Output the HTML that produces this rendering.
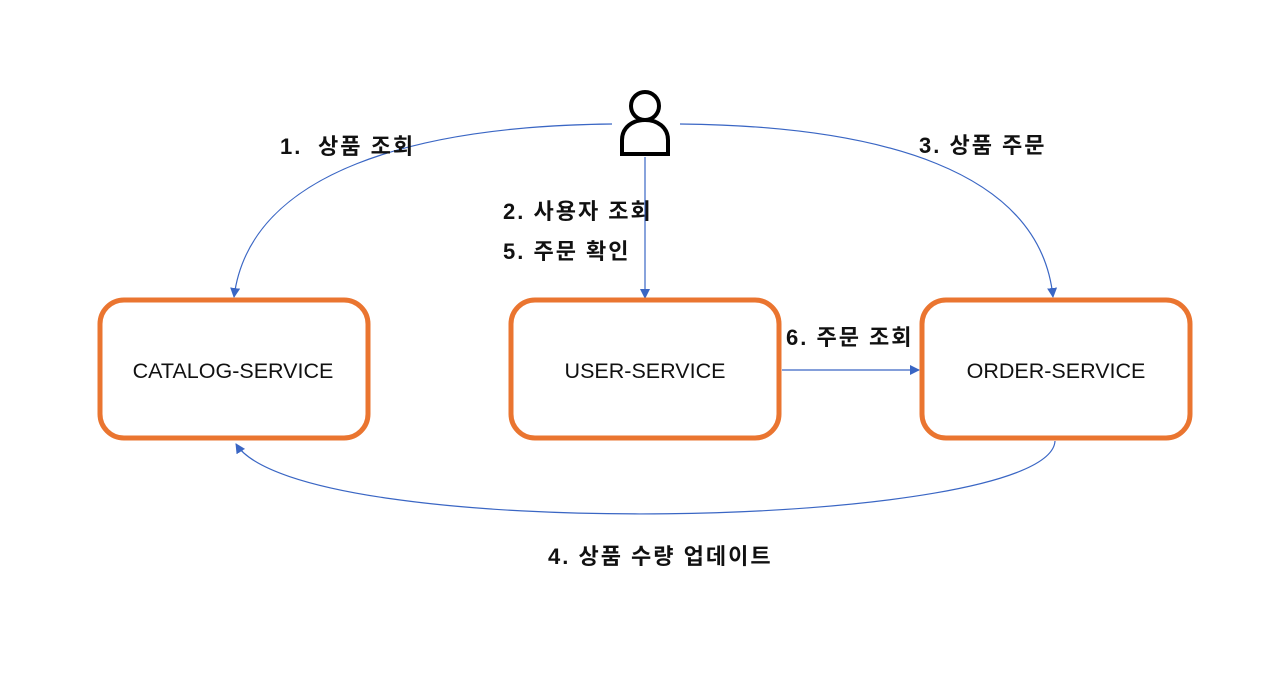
<!DOCTYPE html>
<html><head><meta charset="utf-8"><style>
html,body{margin:0;padding:0;background:#fff;}
svg text{font-family:"Liberation Sans","Noto Sans CJK KR",sans-serif;}
</style></head><body>
<svg width="1286" height="688" viewBox="0 0 1286 688" xmlns="http://www.w3.org/2000/svg">
<defs><marker id="a" markerWidth="10" markerHeight="10" refX="9" refY="5" orient="auto" markerUnits="userSpaceOnUse"><path d="M0,0 L10,5 L0,10 z" fill="#3a66c4"/></marker></defs>
<g fill="none" stroke="#3a66c4" stroke-width="1.2">
<path d="M612,124 C420,126 250,170 234,297" marker-end="url(#a)"/>
<path d="M680,124 C880,126 1040,170 1053,297" marker-end="url(#a)"/>
<path d="M645,157 L645,298" marker-end="url(#a)"/>
<path d="M782,370 L919,370" marker-end="url(#a)"/>
<path d="M1055,441 C1050,530 300,545 236,444" marker-end="url(#a)"/>
</g>
<g fill="#fff" stroke="#ea7530" stroke-width="5">
<rect x="100" y="300" width="268" height="138" rx="24"/>
<rect x="511" y="300" width="268" height="138" rx="24"/>
<rect x="922" y="300" width="268" height="138" rx="24"/>
</g>
<g fill="none" stroke="#000" stroke-width="4">
<circle cx="645" cy="106" r="14"/>
<path d="M622,154 L622,140 C622,127 633,120 645,120 C657,120 668,127 668,140 L668,154 Z"/>
</g>
<g font-size="21.5" fill="#111" text-anchor="middle">
<text x="233" y="378">CATALOG-SERVICE</text>
<text x="645" y="378">USER-SERVICE</text>
<text x="1056" y="378">ORDER-SERVICE</text>
</g>
<g font-size="22" font-weight="bold" fill="#111" letter-spacing="2">
<text x="280" y="154">1.</text>
<text x="318" y="154">상품 조회</text>
<text x="919" y="153">3. 상품 주문</text>
<text x="503" y="219">2. 사용자 조회</text>
<text x="503" y="259">5. 주문 확인</text>
<text x="786" y="345">6. 주문 조회</text>
<text x="548" y="564">4. 상품 수량 업데이트</text>
</g>
</svg>
</body></html>
